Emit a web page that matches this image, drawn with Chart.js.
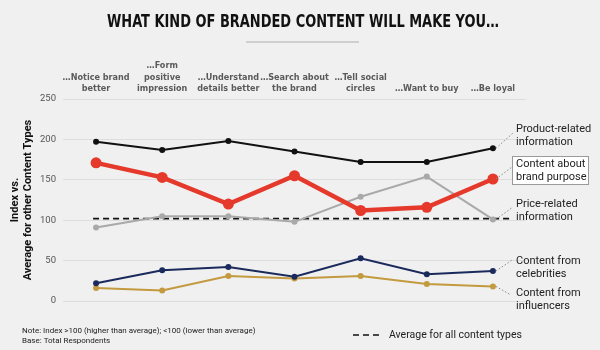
<!DOCTYPE html>
<html>
<head>
<meta charset="utf-8">
<script src="https://cdn.jsdelivr.net/npm/chart.js@4.4.1/dist/chart.umd.min.js"></script>
<style>
  html, body { margin: 0; padding: 0; background: #f0f0f0; }
  #wrap { width: 600px; height: 350px; position: relative; }
</style>
</head>
<body>
<div id="wrap"><canvas id="graphique" width="600" height="350"></canvas></div>
<script>
// donnees
const categories = [
  ["…Notice brand", "better"],
  ["…Form", "positive", "impression"],
  ["…Understand", "details better"],
  ["…Search about", "the brand"],
  ["…Tell social", "circles"],
  ["…Want to buy"],
  ["…Be loyal"]
];
const produit = [197, 187, 198, 185, 172, 172, 189];
const marque = [171, 153, 120, 155, 112, 116, 151];
const prix = [91, 105, 105, 98, 129, 154, 101];
const celebrites = [22, 38, 42, 30, 53, 33, 37];
const influenceurs = [16, 13, 31, 28, 31, 21, 18];
const moyenne = 102;
const yTicks = [0, 50, 100, 150, 200, 250];

const titre = "WHAT KIND OF BRANDED CONTENT WILL MAKE YOU…";

// etiquettes a droite : texte, hauteur du texte, bout de la ligne pointillee
const etiquettes = [
  { serie: 0, lignes: ["Product-related", "information"], y: 129, fin: [513, 133] },
  { serie: 1, lignes: ["Content about", "brand purpose"], y: 164, fin: [512, 167], cadre: true },
  { serie: 2, lignes: ["Price-related", "information"], y: 204, fin: [513, 207] },
  { serie: 3, lignes: ["Content from", "celebrities"], y: 261, fin: [512, 260] },
  { serie: 4, lignes: ["Content from", "influencers"], y: 293, fin: [511, 295] }
];

const fond = {
  id: "fond",
  beforeDraw(chart) {
    const ctx = chart.ctx;
    ctx.save();
    ctx.fillStyle = "#f0f0f0";
    ctx.fillRect(0, 0, chart.width, chart.height);
    ctx.restore();
  }
};

const ligneMoyenne = {
  id: "ligneMoyenne",
  beforeDatasetsDraw(chart) {
    const ctx = chart.ctx;
    const x = chart.scales.x, y = chart.scales.y;
    const py = y.getPixelForValue(moyenne);
    ctx.save();
    ctx.strokeStyle = "#111";
    ctx.lineWidth = 1.6;
    ctx.setLineDash([6, 4]);
    ctx.beginPath();
    ctx.moveTo(x.getPixelForValue(0) - 3, py);
    ctx.lineTo(chart.chartArea.right - 14, py);
    ctx.stroke();
    ctx.restore();
  }
};

const decor = {
  id: "decor",
  afterDraw(chart) {
    const ctx = chart.ctx;
    ctx.save();
    // titre
    ctx.fillStyle = "#111";
    ctx.font = "bold 18px 'DejaVu Sans Condensed'";
    ctx.textAlign = "center";
    ctx.textBaseline = "middle";
    ctx.fillText(titre, 303, 22, 392);
    ctx.fillStyle = "#cfcfcf";
    ctx.fillRect(246, 41, 113, 2);

    // etiquettes des series
    ctx.font = "11px Roboto";
    ctx.textAlign = "left";
    etiquettes.forEach(e => {
      const meta = chart.getDatasetMeta(e.serie);
      const pt = meta.data[meta.data.length - 1];
      if (e.cadre) {
        ctx.fillStyle = "#ffffff";
        ctx.strokeStyle = "#9a9a9a";
        ctx.lineWidth = 1;
        ctx.fillRect(512, 156, 76, 28);
        ctx.strokeRect(512.5, 156.5, 76, 28);
      }
      ctx.strokeStyle = "#888";
      ctx.lineWidth = 1;
      ctx.setLineDash([1.5, 2]);
      ctx.beginPath();
      ctx.moveTo(pt.x + 3, pt.y);
      ctx.lineTo(e.fin[0], e.fin[1]);
      ctx.stroke();
      ctx.setLineDash([]);
      ctx.fillStyle = "#222";
      e.lignes.forEach((l, i) => ctx.fillText(l, 516, e.y + i * 13));
    });

    // notes
    ctx.fillStyle = "#222";
    ctx.font = "8px Roboto";
    ctx.fillText("Note: Index >100 (higher than average); <100 (lower than average)", 22, 331);
    ctx.fillText("Base: Total Respondents", 22, 341);

    // legende
    ctx.strokeStyle = "#111";
    ctx.lineWidth = 1.6;
    ctx.setLineDash([6, 4]);
    ctx.beginPath();
    ctx.moveTo(353, 335);
    ctx.lineTo(380, 335);
    ctx.stroke();
    ctx.setLineDash([]);
    ctx.font = "10.5px Roboto";
    ctx.fillText("Average for all content types", 389, 335);
    ctx.restore();
  }
};

function serie(label, data, couleur, epaisseur, rayon, ordre) {
  return {
    label: label,
    data: data,
    borderColor: couleur,
    backgroundColor: couleur,
    borderWidth: epaisseur,
    pointRadius: rayon,
    pointHoverRadius: rayon,
    pointBorderWidth: 0,
    tension: 0,
    order: ordre
  };
}

window.graphique = new Chart(document.getElementById("graphique"), {
  type: "line",
  data: {
    labels: categories,
    datasets: [
      serie("Product-related information", produit, "#111111", 2, 3, 1),
      serie("Content about brand purpose", marque, "#e5392b", 4.5, 5.5, 0),
      serie("Price-related information", prix, "#a9a9a9", 2, 3, 2),
      serie("Content from celebrities", celebrites, "#1b2a5c", 2, 3, 3),
      serie("Content from influencers", influenceurs, "#c39a3f", 2, 3, 4)
    ]
  },
  options: {
    responsive: false,
    animation: false,
    layout: { padding: { left: 0, top: 50, right: 74, bottom: 49 } },
    plugins: { legend: { display: false }, tooltip: { enabled: false } },
    scales: {
      x: {
        position: "top",
        offset: true,
        grid: { display: false, drawTicks: false },
        border: { display: false },
        ticks: {
          color: "#5a5a5a",
          font: { family: "DejaVu Sans Condensed", size: 9, weight: "bold", lineHeight: 1.3 },
          padding: 4,
          maxRotation: 0,
          autoSkip: false
        },
        afterFit(s) { s.height = 49; }
      },
      y: {
        min: 0,
        max: 250,
        afterBuildTicks(s) { s.ticks = yTicks.map(v => ({ value: v })); },
        grid: { color: "#dddddd", lineWidth: 1, drawTicks: false },
        border: { display: false },
        ticks: { color: "#555", font: { family: "Roboto", size: 9.5 }, padding: 7 },
        title: {
          display: true,
          text: ["Index vs.", "Average for other Content Types"],
          color: "#111",
          font: { family: "Roboto", size: 11, weight: "bold", lineHeight: 1.15 },
          padding: { top: 9, bottom: 0 }
        },
        afterFit(s) { s.width = 63; }
      }
    }
  },
  plugins: [fond, ligneMoyenne, decor]
});
</script>
</body>
</html>
